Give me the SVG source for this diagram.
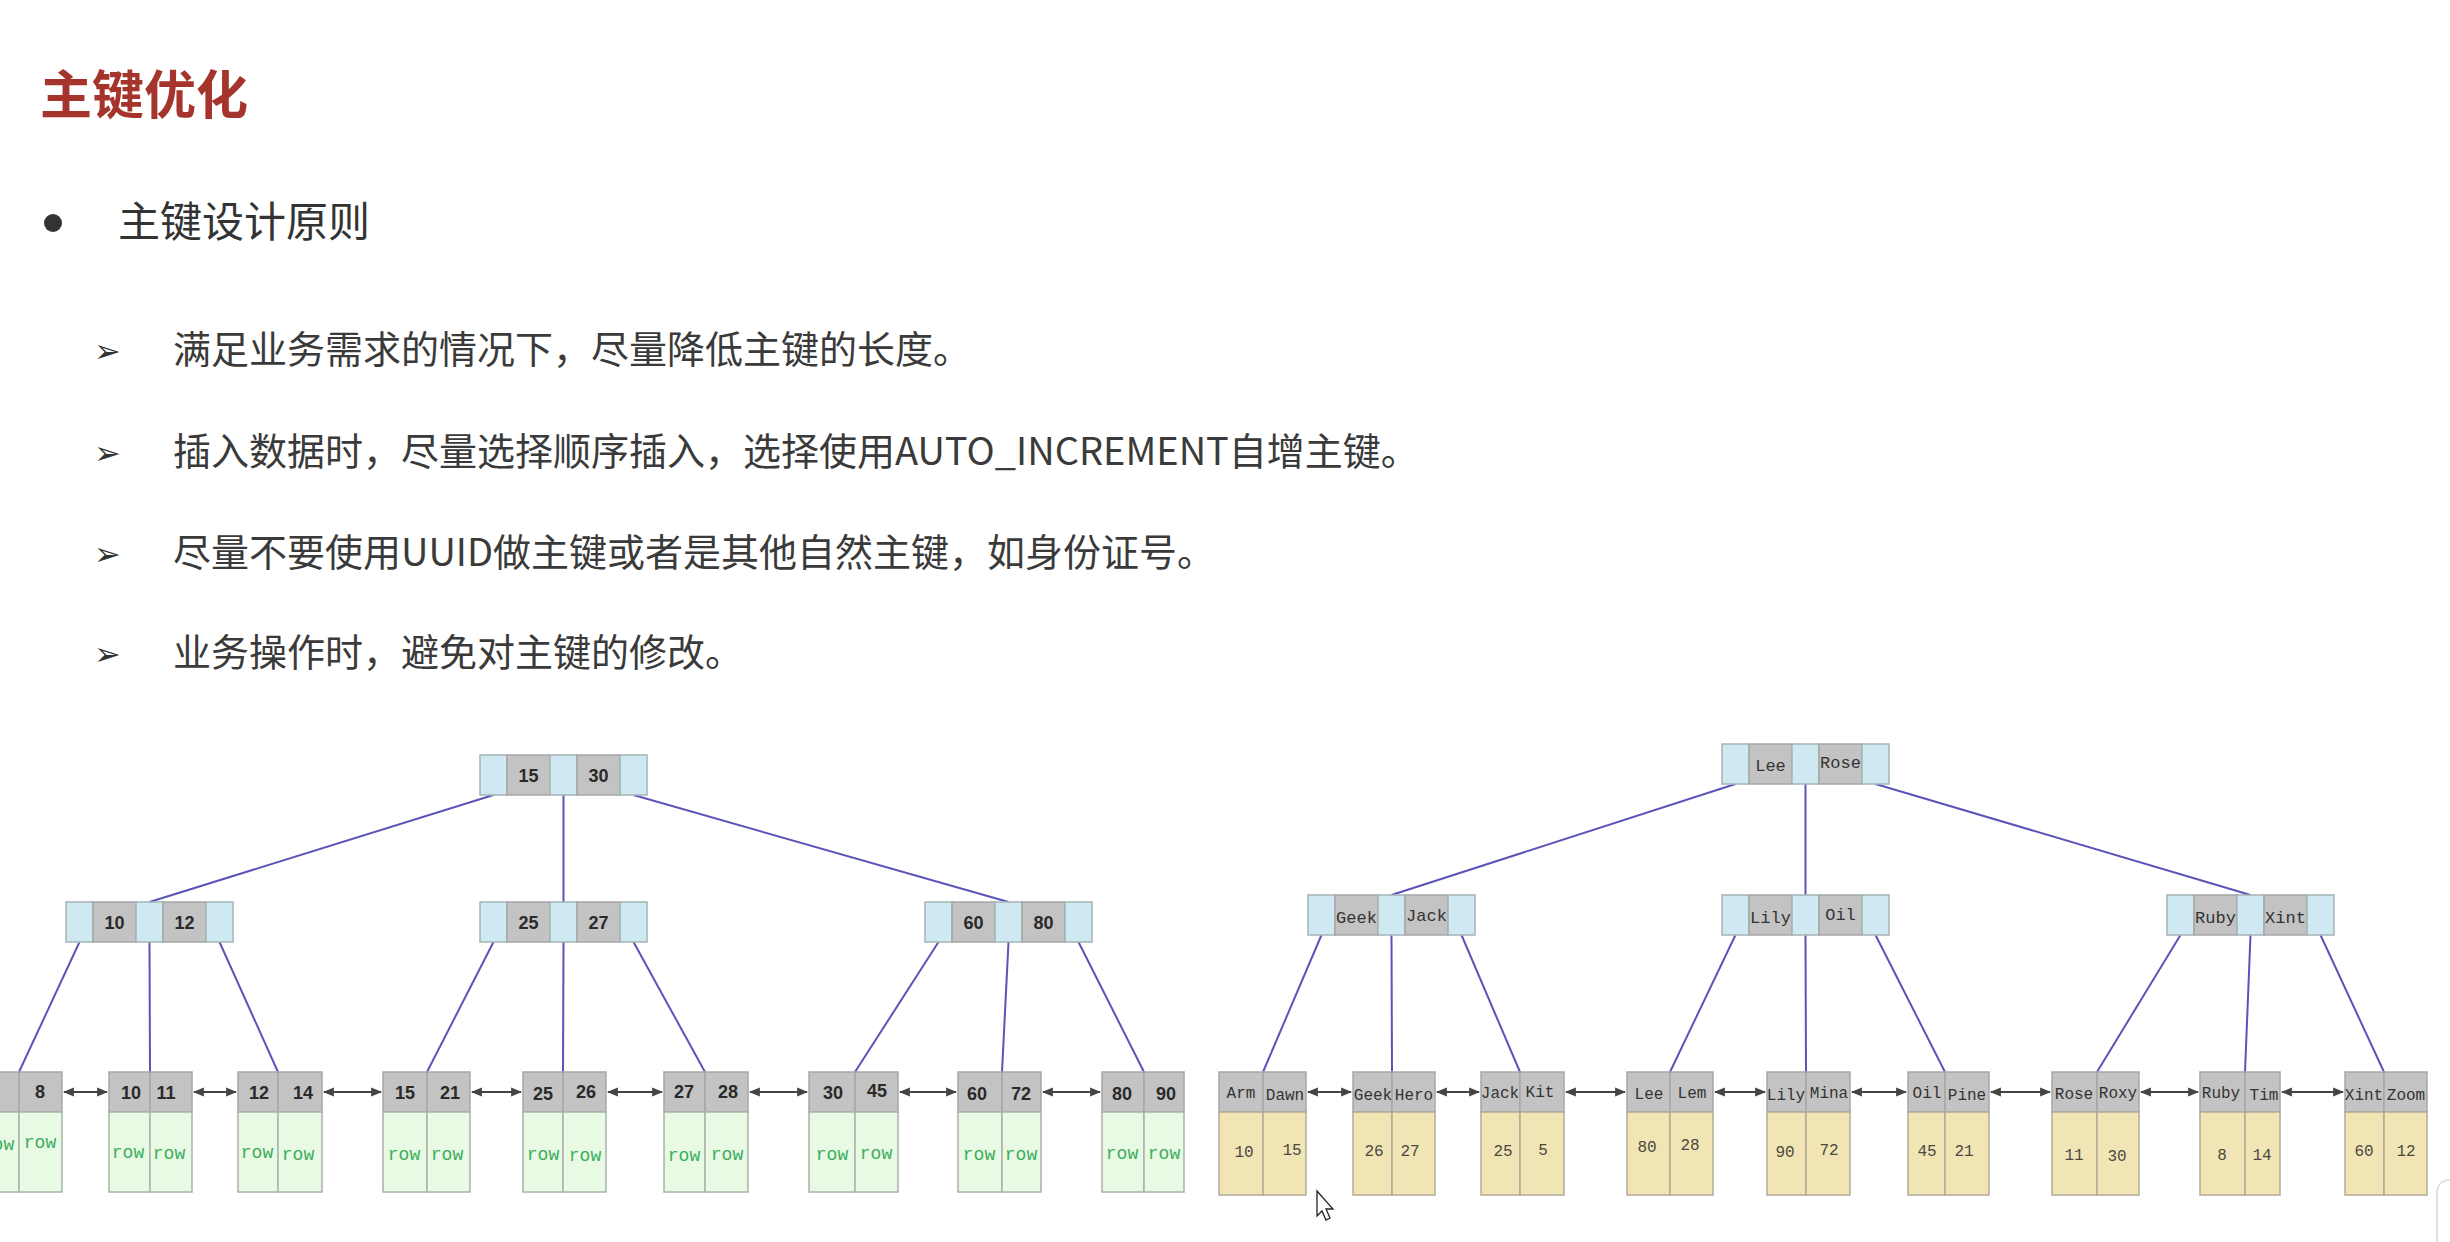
<svg xmlns="http://www.w3.org/2000/svg" width="2450" height="1242" viewBox="0 0 2450 1242">
<defs>
<style>
.title{font-family:"Noto Sans CJK SC","Liberation Sans",sans-serif;font-size:52px;font-weight:bold;fill:#a5352c}
.h1{font-family:"Noto Sans CJK SC","Liberation Sans",sans-serif;font-size:42px;fill:#333}
.li{font-family:"Noto Sans CJK SC","Liberation Sans",sans-serif;font-size:38px;fill:#3a3a3a}
.arr{font-family:"DejaVu Sans",sans-serif;font-size:32px;fill:#333}
.bl{fill:#cfe9f2;stroke:#a7b4b8;stroke-width:1.5}
.gr{fill:#c3c3c3;stroke:#a7a7a7;stroke-width:1.5}
.gn{fill:#e8f9e4;stroke:#a9b2a8;stroke-width:1.5}
.yl{fill:#f1e5b6;stroke:#b2ab98;stroke-width:1.5}
.kn{font-family:"Liberation Sans",Arial,sans-serif;font-size:18px;font-weight:bold;fill:#2a2a2a;text-anchor:middle}
.km{font-family:"Liberation Mono","Courier New",monospace;font-size:17px;fill:#333;text-anchor:middle}
.kl{font-family:"Liberation Mono","Courier New",monospace;font-size:16px;fill:#333;text-anchor:middle}
.row{font-family:"Liberation Mono","Courier New",monospace;font-size:18px;fill:#3bae5c;text-anchor:middle}
.val{font-family:"Liberation Mono","Courier New",monospace;font-size:16px;fill:#4a4a40;text-anchor:middle}
.cn{stroke:#5b54b8;stroke-width:2;fill:none}
.ln{stroke:#444;stroke-width:2;fill:none;marker-start:url(#ah);marker-end:url(#ah)}
</style>
<marker id="ah" viewBox="0 0 10 10" refX="9" refY="5" markerWidth="11" markerHeight="11" orient="auto-start-reverse" markerUnits="userSpaceOnUse">
<path d="M0,1 L10,5 L0,9 Z" fill="#444"/>
</marker>
<g id="inode">
<rect class="bl" x="0" y="0" width="27" height="40"/>
<rect class="gr" x="27" y="0" width="43" height="40"/>
<rect class="bl" x="70" y="0" width="27" height="40"/>
<rect class="gr" x="97" y="0" width="43" height="40"/>
<rect class="bl" x="140" y="0" width="27" height="40"/>
</g>
</defs>
<rect width="2450" height="1242" fill="#ffffff"/>

<g id="header">
<text class="title" x="40" y="114">主键优化</text>
<circle cx="53" cy="223" r="9" fill="#333"/>
<text class="h1" x="118" y="237">主键设计原则</text>
<text class="arr" x="94" y="362">➢</text>
<text class="li" x="173" y="363">满足业务需求的情况下，尽量降低主键的长度。</text>
<text class="arr" x="94" y="464">➢</text>
<text class="li" x="173" y="465">插入数据时，尽量选择顺序插入，选择使用AUTO_INCREMENT自增主键。</text>
<text class="arr" x="94" y="565">➢</text>
<text class="li" x="173" y="566">尽量不要使用UUID做主键或者是其他自然主键，如身份证号。</text>
<text class="arr" x="94" y="665">➢</text>
<text class="li" x="173" y="666">业务操作时，避免对主键的修改。</text>
</g>

<g id="connectors">
<line class="cn" x1="493.5" y1="795" x2="149.5" y2="902"/>
<line class="cn" x1="563.5" y1="795" x2="563.5" y2="902"/>
<line class="cn" x1="633.5" y1="795" x2="1008.5" y2="902"/>
<line class="cn" x1="79.5" y1="942" x2="19" y2="1072"/>
<line class="cn" x1="149.5" y1="942" x2="150" y2="1072"/>
<line class="cn" x1="219.5" y1="942" x2="278" y2="1072"/>
<line class="cn" x1="493.5" y1="942" x2="427" y2="1072"/>
<line class="cn" x1="563.5" y1="942" x2="563" y2="1072"/>
<line class="cn" x1="633.5" y1="942" x2="705" y2="1072"/>
<line class="cn" x1="938.5" y1="942" x2="855" y2="1072"/>
<line class="cn" x1="1008.5" y1="942" x2="1002" y2="1072"/>
<line class="cn" x1="1078.5" y1="942" x2="1144" y2="1072"/>
<line class="cn" x1="1735.5" y1="784" x2="1391.5" y2="895"/>
<line class="cn" x1="1805.5" y1="784" x2="1805.5" y2="895"/>
<line class="cn" x1="1875.5" y1="784" x2="2250.5" y2="895"/>
<line class="cn" x1="1321.5" y1="935" x2="1263" y2="1072"/>
<line class="cn" x1="1391.5" y1="935" x2="1392" y2="1072"/>
<line class="cn" x1="1461.5" y1="935" x2="1520" y2="1072"/>
<line class="cn" x1="1735.5" y1="935" x2="1670" y2="1072"/>
<line class="cn" x1="1805.5" y1="935" x2="1806" y2="1072"/>
<line class="cn" x1="1875.5" y1="935" x2="1945" y2="1072"/>
<line class="cn" x1="2180.5" y1="935" x2="2097" y2="1072"/>
<line class="cn" x1="2250.5" y1="935" x2="2245" y2="1072"/>
<line class="cn" x1="2320.5" y1="935" x2="2384" y2="1072"/>
<line class="ln" x1="64" y1="1092" x2="107" y2="1092"/>
<line class="ln" x1="194" y1="1092" x2="236" y2="1092"/>
<line class="ln" x1="324" y1="1092" x2="381" y2="1092"/>
<line class="ln" x1="472" y1="1092" x2="521" y2="1092"/>
<line class="ln" x1="608" y1="1092" x2="662" y2="1092"/>
<line class="ln" x1="750" y1="1092" x2="807" y2="1092"/>
<line class="ln" x1="900" y1="1092" x2="956" y2="1092"/>
<line class="ln" x1="1043" y1="1092" x2="1100" y2="1092"/>
<line class="ln" x1="1308" y1="1092" x2="1351" y2="1092"/>
<line class="ln" x1="1437" y1="1092" x2="1479" y2="1092"/>
<line class="ln" x1="1566" y1="1092" x2="1625" y2="1092"/>
<line class="ln" x1="1715" y1="1092" x2="1765" y2="1092"/>
<line class="ln" x1="1852" y1="1092" x2="1906" y2="1092"/>
<line class="ln" x1="1991" y1="1092" x2="2050" y2="1092"/>
<line class="ln" x1="2141" y1="1092" x2="2198" y2="1092"/>
<line class="ln" x1="2282" y1="1092" x2="2343" y2="1092"/>
</g>

<!-- left tree internal nodes -->
<g id="l-root" transform="translate(480,755)"><use href="#inode"/><text class="kn" x="48.5" y="27">15</text><text class="kn" x="118.5" y="27">30</text></g>
<g id="l-n1" transform="translate(66,902)"><use href="#inode"/><text class="kn" x="48.5" y="27">10</text><text class="kn" x="118.5" y="27">12</text></g>
<g id="l-n2" transform="translate(480,902)"><use href="#inode"/><text class="kn" x="48.5" y="27">25</text><text class="kn" x="118.5" y="27">27</text></g>
<g id="l-n3" transform="translate(925,902)"><use href="#inode"/><text class="kn" x="48.5" y="27">60</text><text class="kn" x="118.5" y="27">80</text></g>

<!-- left tree leaves -->
<g id="l-leaf1"><rect class="gr" x="-24" y="1072" width="43" height="40"/><rect class="gr" x="19" y="1072" width="43" height="40"/><rect class="gn" x="-24" y="1112" width="43" height="80"/><rect class="gn" x="19" y="1112" width="43" height="80"/><text class="kn" x="40" y="1098">8</text><text class="row" x="-2" y="1150">row</text><text class="row" x="40" y="1148">row</text></g>
<g id="l-leaf2"><rect class="gr" x="109" y="1072" width="41" height="40"/><rect class="gr" x="150" y="1072" width="42" height="40"/><rect class="gn" x="109" y="1112" width="41" height="80"/><rect class="gn" x="150" y="1112" width="42" height="80"/><text class="kn" x="131" y="1099">10</text><text class="kn" x="166" y="1099">11</text><text class="row" x="128" y="1158">row</text><text class="row" x="169" y="1159">row</text></g>
<g id="l-leaf3"><rect class="gr" x="238" y="1072" width="40" height="40"/><rect class="gr" x="278" y="1072" width="44" height="40"/><rect class="gn" x="238" y="1112" width="40" height="80"/><rect class="gn" x="278" y="1112" width="44" height="80"/><text class="kn" x="259" y="1099">12</text><text class="kn" x="303" y="1099">14</text><text class="row" x="257" y="1158">row</text><text class="row" x="298" y="1160">row</text></g>
<g id="l-leaf4"><rect class="gr" x="383" y="1072" width="44" height="40"/><rect class="gr" x="427" y="1072" width="43" height="40"/><rect class="gn" x="383" y="1112" width="44" height="80"/><rect class="gn" x="427" y="1112" width="43" height="80"/><text class="kn" x="405" y="1099">15</text><text class="kn" x="450" y="1099">21</text><text class="row" x="404" y="1160">row</text><text class="row" x="447" y="1160">row</text></g>
<g id="l-leaf5"><rect class="gr" x="523" y="1072" width="40" height="40"/><rect class="gr" x="563" y="1072" width="43" height="40"/><rect class="gn" x="523" y="1112" width="40" height="80"/><rect class="gn" x="563" y="1112" width="43" height="80"/><text class="kn" x="543" y="1100">25</text><text class="kn" x="586" y="1098">26</text><text class="row" x="543" y="1160">row</text><text class="row" x="585" y="1161">row</text></g>
<g id="l-leaf6"><rect class="gr" x="664" y="1072" width="41" height="40"/><rect class="gr" x="705" y="1072" width="43" height="40"/><rect class="gn" x="664" y="1112" width="41" height="80"/><rect class="gn" x="705" y="1112" width="43" height="80"/><text class="kn" x="684" y="1098">27</text><text class="kn" x="728" y="1098">28</text><text class="row" x="684" y="1161">row</text><text class="row" x="727" y="1160">row</text></g>
<g id="l-leaf7"><rect class="gr" x="809" y="1072" width="46" height="40"/><rect class="gr" x="855" y="1072" width="43" height="40"/><rect class="gn" x="809" y="1112" width="46" height="80"/><rect class="gn" x="855" y="1112" width="43" height="80"/><text class="kn" x="833" y="1099">30</text><text class="kn" x="877" y="1097">45</text><text class="row" x="832" y="1160">row</text><text class="row" x="876" y="1159">row</text></g>
<g id="l-leaf8"><rect class="gr" x="958" y="1072" width="44" height="40"/><rect class="gr" x="1002" y="1072" width="39" height="40"/><rect class="gn" x="958" y="1112" width="44" height="80"/><rect class="gn" x="1002" y="1112" width="39" height="80"/><text class="kn" x="977" y="1100">60</text><text class="kn" x="1021" y="1100">72</text><text class="row" x="979" y="1160">row</text><text class="row" x="1021" y="1160">row</text></g>
<g id="l-leaf9"><rect class="gr" x="1102" y="1072" width="42" height="40"/><rect class="gr" x="1144" y="1072" width="40" height="40"/><rect class="gn" x="1102" y="1112" width="42" height="80"/><rect class="gn" x="1144" y="1112" width="40" height="80"/><text class="kn" x="1122" y="1100">80</text><text class="kn" x="1166" y="1100">90</text><text class="row" x="1122" y="1159">row</text><text class="row" x="1164" y="1159">row</text></g>

<!-- right tree internal nodes -->
<g id="r-root" transform="translate(1722,744)"><use href="#inode"/><text class="km" x="48.5" y="27">Lee</text><text class="km" x="118.5" y="24">Rose</text></g>
<g id="r-n1" transform="translate(1308,895)"><use href="#inode"/><text class="km" x="48.5" y="28">Geek</text><text class="km" x="118.5" y="26">Jack</text></g>
<g id="r-n2" transform="translate(1722,895)"><use href="#inode"/><text class="km" x="48.5" y="28">Lily</text><text class="km" x="118.5" y="25">Oil</text></g>
<g id="r-n3" transform="translate(2167,895)"><use href="#inode"/><text class="km" x="48.5" y="28">Ruby</text><text class="km" x="118.5" y="28">Xint</text></g>

<!-- right tree leaves -->
<g id="r-leaf1"><rect class="gr" x="1219" y="1072" width="44" height="40"/><rect class="gr" x="1263" y="1072" width="43" height="40"/><rect class="yl" x="1219" y="1112" width="44" height="83"/><rect class="yl" x="1263" y="1112" width="43" height="83"/><text class="kl" x="1241" y="1098">Arm</text><text class="kl" x="1285" y="1100">Dawn</text><text class="val" x="1244" y="1157">10</text><text class="val" x="1292" y="1155">15</text></g>
<g id="r-leaf2"><rect class="gr" x="1353" y="1072" width="39" height="40"/><rect class="gr" x="1392" y="1072" width="43" height="40"/><rect class="yl" x="1353" y="1112" width="39" height="83"/><rect class="yl" x="1392" y="1112" width="43" height="83"/><text class="kl" x="1373" y="1100">Geek</text><text class="kl" x="1414" y="1100">Hero</text><text class="val" x="1374" y="1156">26</text><text class="val" x="1410" y="1156">27</text></g>
<g id="r-leaf3"><rect class="gr" x="1481" y="1072" width="39" height="40"/><rect class="gr" x="1520" y="1072" width="44" height="40"/><rect class="yl" x="1481" y="1112" width="39" height="83"/><rect class="yl" x="1520" y="1112" width="44" height="83"/><text class="kl" x="1500" y="1098">Jack</text><text class="kl" x="1540" y="1097">Kit</text><text class="val" x="1503" y="1156">25</text><text class="val" x="1543" y="1155">5</text></g>
<g id="r-leaf4"><rect class="gr" x="1627" y="1072" width="43" height="40"/><rect class="gr" x="1670" y="1072" width="43" height="40"/><rect class="yl" x="1627" y="1112" width="43" height="83"/><rect class="yl" x="1670" y="1112" width="43" height="83"/><text class="kl" x="1649" y="1099">Lee</text><text class="kl" x="1692" y="1098">Lem</text><text class="val" x="1647" y="1152">80</text><text class="val" x="1690" y="1150">28</text></g>
<g id="r-leaf5"><rect class="gr" x="1767" y="1072" width="39" height="40"/><rect class="gr" x="1806" y="1072" width="44" height="40"/><rect class="yl" x="1767" y="1112" width="39" height="83"/><rect class="yl" x="1806" y="1112" width="44" height="83"/><text class="kl" x="1786" y="1100">Lily</text><text class="kl" x="1829" y="1098">Mina</text><text class="val" x="1785" y="1157">90</text><text class="val" x="1829" y="1155">72</text></g>
<g id="r-leaf6"><rect class="gr" x="1908" y="1072" width="37" height="40"/><rect class="gr" x="1945" y="1072" width="44" height="40"/><rect class="yl" x="1908" y="1112" width="37" height="83"/><rect class="yl" x="1945" y="1112" width="44" height="83"/><text class="kl" x="1927" y="1098">Oil</text><text class="kl" x="1967" y="1100">Pine</text><text class="val" x="1927" y="1156">45</text><text class="val" x="1964" y="1156">21</text></g>
<g id="r-leaf7"><rect class="gr" x="2052" y="1072" width="45" height="40"/><rect class="gr" x="2097" y="1072" width="42" height="40"/><rect class="yl" x="2052" y="1112" width="45" height="83"/><rect class="yl" x="2097" y="1112" width="42" height="83"/><text class="kl" x="2074" y="1099">Rose</text><text class="kl" x="2118" y="1098">Roxy</text><text class="val" x="2074" y="1160">11</text><text class="val" x="2117" y="1161">30</text></g>
<g id="r-leaf8"><rect class="gr" x="2200" y="1072" width="45" height="40"/><rect class="gr" x="2245" y="1072" width="35" height="40"/><rect class="yl" x="2200" y="1112" width="45" height="83"/><rect class="yl" x="2245" y="1112" width="35" height="83"/><text class="kl" x="2221" y="1098">Ruby</text><text class="kl" x="2264" y="1100">Tim</text><text class="val" x="2222" y="1160">8</text><text class="val" x="2262" y="1160">14</text></g>
<g id="r-leaf9"><rect class="gr" x="2345" y="1072" width="39" height="40"/><rect class="gr" x="2384" y="1072" width="43" height="40"/><rect class="yl" x="2345" y="1112" width="39" height="83"/><rect class="yl" x="2384" y="1112" width="43" height="83"/><text class="kl" x="2364" y="1100">Xint</text><text class="kl" x="2406" y="1100">Zoom</text><text class="val" x="2364" y="1156">60</text><text class="val" x="2406" y="1156">12</text></g>

<g id="cursor"><path d="M1317,1191 L1317,1216 L1322,1211 L1326,1220 L1330,1218 L1326,1209 L1333,1209 Z" fill="#fff" stroke="#222" stroke-width="1.3"/></g>
<rect x="2437" y="1180" width="40" height="100" rx="12" fill="#fff" stroke="#d8d8d8" stroke-width="1.5"/>
</svg>
